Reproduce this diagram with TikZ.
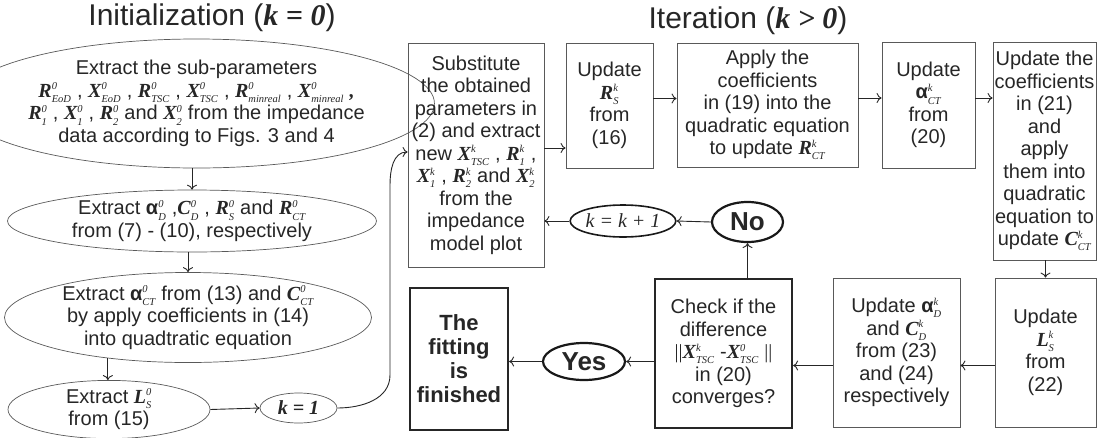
\documentclass[tikz,border=0pt]{standalone}
\usepackage{fontspec}
\setmainfont{Liberation Sans}
\newfontfamily\symfnt{Liberation Serif}
\usetikzlibrary{shapes.geometric,arrows.meta}

\newcommand{\subfnt}{\symfnt\itshape\fontsize{10.5}{10.5}\selectfont}
\newcommand{\pv}[3]{{\symfnt\bfseries\itshape #1}$^{\hbox{\subfnt #3}}_{\hbox{\subfnt #2}}$}
\newcommand{\pa}[2]{{\bfseries α}$^{\hbox{\subfnt #2}}_{\hbox{\subfnt #1}}$}
\newcommand{\kvar}[1]{{\symfnt\bfseries\itshape #1}}

\begin{document}
\begin{tikzpicture}[x=1pt,y=-1pt,
    txt/.style={align=center, inner sep=0pt, text=black!85,
        font=\fontsize{20}{22.5}\selectfont},
    box/.style={txt, draw=black!65, line width=0.8pt},
    thickbox/.style={txt, draw=black!85, line width=2.2pt},
    oval/.style={txt, ellipse, draw=black!65, line width=0.7pt},
    thickoval/.style={txt, ellipse, draw=black!90, line width=2.2pt},
    arr/.style={-{To[length=5pt,width=10pt]}, draw=black!85, line width=0.9pt}]
    \useasboundingbox (0,0) rectangle (1098,437);
    % titles
    \node[txt, anchor=base, font=\fontsize{30}{30}\selectfont] (tinit) at (212,25)
        {Initialization (\kvar{k = 0})};
    \node[txt, anchor=base, font=\fontsize{30}{30}\selectfont] (titer) at (748,28)
        {Iteration (\kvar{k > 0})};
    % initialization
    \node[oval, minimum width=367, minimum height=129] (e1) at (196.5,103.5)
        {Extract the sub-parameters\\
         \pv{R}{EoD}{0} , \pv{X}{EoD}{0} , \pv{R}{TSC}{0} , \pv{X}{TSC}{0} ,
         \pv{R}{minreal}{0} , \pv{X}{minreal}{0} \kvar{,}\\
         \pv{R}{1}{0} , \pv{X}{1}{0} , \pv{R}{2}{0} and \pv{X}{2}{0}  from the impedance\\
         data according to Figs. 3 and 4};
    \node[oval, minimum width=369, minimum height=62] (e2) at (192,221)
        {Extract \pa{D}{0} ,\pv{C}{D}{0} , \pv{R}{S}{0} and \pv{R}{CT}{0}\\
         from (7) - (10), respectively};
    \node[oval, minimum width=367, minimum height=89] (e3) at (188,317.5)
        {Extract \pa{CT}{0} from (13) and \pv{C}{CT}{0}\\
         by apply coefficients in (14)\\
         into quadtratic equation};
    \node[oval, minimum width=202, minimum height=55] (e4) at (109,409.5)
        {Extract \pv{L}{S}{0}\\ from (15)};
    \node[oval, minimum width=77, minimum height=30] (k1) at (298.5,408)
        {\kvar{k = 1}};
    % iteration
    \node[box, minimum width=136, minimum height=224] (subst) at (476,155)
        {Substitute\\ the obtained\\ parameters in\\ (2) and extract\\
         new \pv{X}{TSC}{k} , \pv{R}{1}{k} ,\\
         \pv{X}{1}{k} , \pv{R}{2}{k} and \pv{X}{2}{k}\\
         from the\\ impedance\\ model plot};
    \node[box, minimum width=87, minimum height=125] (rs) at (609.5,105.5)
        {Update\\ \pv{R}{S}{k}\\ from\\ (16)};
    \node[box, minimum width=181, minimum height=124] (apply) at (767.5,105)
        {Apply the\\ coefficients\\ in (19) into the\\ quadratic equation\\
         to update \pv{R}{CT}{k}};
    \node[box, minimum width=93, minimum height=126] (act) at (928.5,105)
        {Update\\ \pa{CT}{k}\\ from\\ (20)};
    \node[box, minimum width=103, minimum height=218] (coef) at (1044.5,151)
        {Update the\\ coefficients\\ in (21)\\ and\\ apply\\ them into\\
         quadratic\\ equation to\\ update \pv{C}{CT}{k}};
    \node[box, minimum width=101, minimum height=149] (ls) at (1045.5,352.5)
        {Update\\ \pv{L}{S}{k}\\ from\\ (22)};
    \node[box, minimum width=127, minimum height=149] (ad) at (896.5,352.5)
        {Update \pa{D}{k}\\ and \pv{C}{D}{k}\\ from (23)\\ and (24)\\ respectively};
    \node[thickbox, minimum width=137, minimum height=149] (check) at (723.5,353.5)
        {Check if the\\ difference\\
         {\symfnt ||}\pv{X}{TSC}{k} -\pv{X}{TSC}{0} {\symfnt ||}\\
         in (20)\\ converges?};
    \node[thickbox, minimum width=98, minimum height=142,
        font=\fontsize{22}{24}\selectfont\bfseries] (done) at (459,359)
        {The\\ fitting\\ is\\ finished};
    \node[thickoval, minimum width=71, minimum height=40,
        font=\fontsize{26}{26}\selectfont\bfseries] (no) at (747.5,222) {No};
    \node[thickoval, minimum width=82, minimum height=37,
        font=\fontsize{26}{26}\selectfont\bfseries] (yes) at (584,361.5) {Yes};
    \node[thickoval, line width=1.6pt, minimum width=100, minimum height=32] (kk)
        at (623,221) {\symfnt\itshape k = k + 1};
    % connectors
    \draw[arr] (e2.north |- e1.south) -- (e2.north);
    \draw[arr] (e3.north |- e2.south) -- (e3.north);
    \draw[arr] (e3.-153) -- (e3.-153 |- e4.north);
    \draw[arr] (e4.east) -- (k1.west);
    \draw[arr] (k1.east) to[out=0,in=-90] (390,375) -- (390,185)
        to[out=90,in=180] ([yshift=3pt]subst.west);
    \draw[arr] ([yshift=7pt]subst.east) -- ([yshift=7pt]subst.east -| rs.west);
    \draw[arr] ([yshift=7pt]rs.east) -- ([yshift=7pt]rs.east -| apply.west);
    \draw[arr] ([yshift=7pt]apply.east) -- ([yshift=7pt]apply.east -| act.west);
    \draw[arr] ([yshift=7pt]act.east) -- ([yshift=7pt]act.east -| coef.west);
    \draw[arr] (ls.north |- coef.south) -- (ls.north);
    \draw[arr] ([yshift=-13pt]ls.west) -- ([yshift=-13pt]ls.west -| ad.east);
    \draw[arr] ([yshift=-13pt]ad.west) -- ([yshift=-13pt]ad.west -| check.east);
    \draw[arr] (check.west |- yes.east) -- (yes.east);
    \draw[arr] (yes.west) -- (yes.west -| done.east);
    \draw[arr] (no.south |- check.north) -- (no.south);
    \draw[arr] (no.west) -- (kk.east);
    \draw[arr] (kk.west) -- (kk.west -| subst.east);
\end{tikzpicture}
\end{document}
